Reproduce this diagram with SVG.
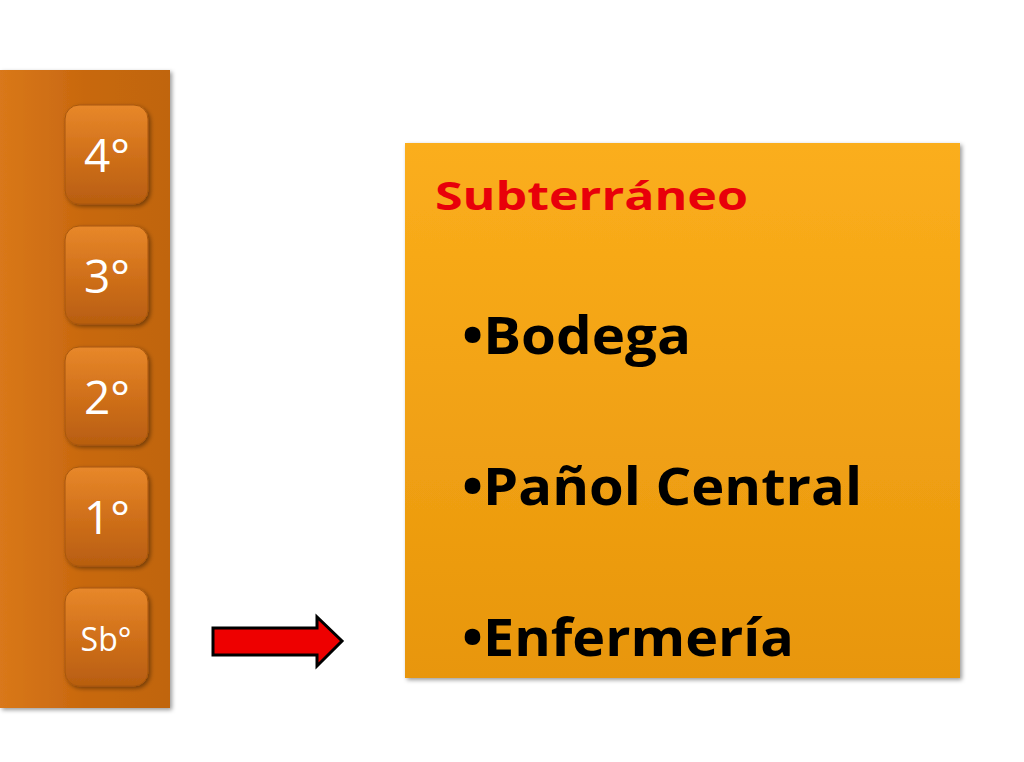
<svg xmlns="http://www.w3.org/2000/svg" width="1024" height="762" viewBox="0 0 1024 762">
<defs>
<linearGradient id="col" x1="0" y1="0" x2="1" y2="0"><stop offset="0" stop-color="#d9781a"/><stop offset="0.5" stop-color="#c8680f"/><stop offset="1" stop-color="#c06510"/></linearGradient>
<linearGradient id="btn" x1="0" y1="0" x2="0" y2="1"><stop offset="0" stop-color="#e8882a"/><stop offset="0.5" stop-color="#d0701a"/><stop offset="1" stop-color="#b85e10"/></linearGradient>
<linearGradient id="box" x1="0" y1="0" x2="0" y2="1"><stop offset="0" stop-color="#fbae1c"/><stop offset="1" stop-color="#e8960c"/></linearGradient>
<filter id="sh" x="-10%" y="-10%" width="130%" height="130%"><feDropShadow dx="2" dy="2" stdDeviation="2" flood-opacity="0.4"/></filter>
</defs>
<style>
.b{fill:url(#btn);stroke:#a8570e;stroke-width:1;filter:url(#sh)}
.bt{font-family:"Open Sans","Liberation Sans",sans-serif;fill:#fff;text-anchor:middle}
.it{font-family:"Open Sans","Liberation Sans",sans-serif;font-weight:bold;font-size:52px;fill:#000}
</style>
<rect id="column" x="0" y="70" width="170" height="638" fill="url(#col)" filter="url(#sh)"/>
<g id="n4"><rect class="b" x="65" y="105" width="83" height="99" rx="14"/><text class="bt" x="107" y="172" font-size="46">4°</text></g>
<g id="n3"><rect class="b" x="65" y="226" width="83" height="98" rx="14"/><text class="bt" x="107" y="293" font-size="46">3°</text></g>
<g id="n2"><rect class="b" x="65" y="347" width="83" height="98" rx="14"/><text class="bt" x="107" y="414" font-size="46">2°</text></g>
<g id="n1"><rect class="b" x="65" y="467" width="83" height="99" rx="14"/><text class="bt" x="107" y="534" font-size="46">1°</text></g>
<g id="nsb"><rect class="b" x="65" y="588" width="83" height="98" rx="14"/><text class="bt" x="106" y="651" font-size="32">Sb°</text></g>
<g id="connectors"><path d="M213 628 H317 V617 L342 641 L317 666 V655 H213 Z" fill="#ee0000" stroke="#000" stroke-width="3"/></g>
<g id="info">
<rect x="405" y="143" width="555" height="535" fill="url(#box)" filter="url(#sh)"/>
<text x="435" y="210" font-family="'Open Sans','Liberation Sans',sans-serif" font-weight="bold" font-size="40" fill="#e8000a" textLength="313" lengthAdjust="spacingAndGlyphs">Subterráneo</text>
<text class="it" x="462" y="354" textLength="229" lengthAdjust="spacingAndGlyphs">•Bodega</text>
<text class="it" x="462" y="505" textLength="400" lengthAdjust="spacingAndGlyphs">•Pañol Central</text>
<text class="it" x="462" y="656" textLength="332" lengthAdjust="spacingAndGlyphs">•Enfermería</text>
</g>
</svg>
